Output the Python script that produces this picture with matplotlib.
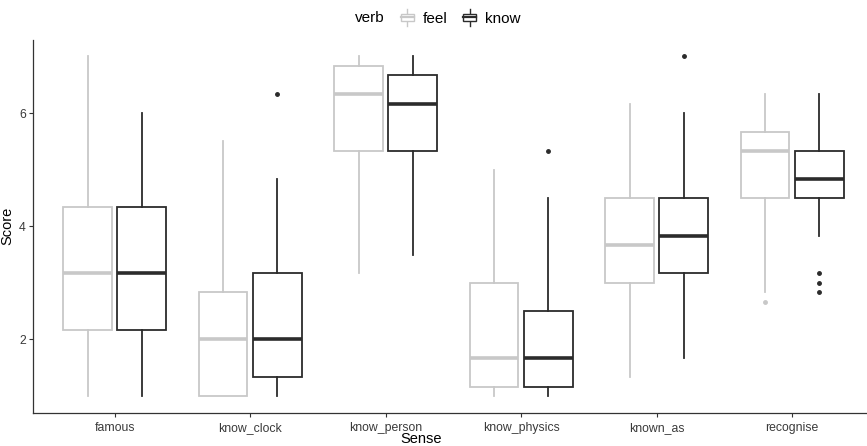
import matplotlib
matplotlib.use("Agg")
import matplotlib.pyplot as plt
from matplotlib.legend_handler import HandlerBase
from matplotlib.lines import Line2D
from matplotlib.patches import Rectangle

plt.rcParams['font.family'] = ['Liberation Sans', 'DejaVu Sans']

senses = ["famous", "know_clock", "know_person", "know_physics", "known_as", "recognise"]
verbs = ["feel", "know"]

# five-number summaries: low whisker, Q1, median, Q3, high whisker
feel_low = [1.0, 1.0, 3.167, 1.0, 1.333, 2.833]
feel_q1 = [2.167, 1.0, 5.333, 1.167, 3.0, 4.5]
feel_med = [3.167, 2.0, 6.333, 1.667, 3.667, 5.333]
feel_q3 = [4.333, 2.833, 6.833, 3.0, 4.5, 5.667]
feel_high = [7.0, 5.5, 7.0, 5.0, 6.167, 6.333]
feel_out = [[], [], [], [], [], [2.667]]

know_low = [1.0, 1.0, 3.5, 1.0, 1.667, 3.833]
know_q1 = [2.167, 1.333, 5.333, 1.167, 3.167, 4.5]
know_med = [3.167, 2.0, 6.167, 1.667, 3.833, 4.833]
know_q3 = [4.333, 3.167, 6.667, 2.5, 4.5, 5.333]
know_high = [6.0, 4.833, 7.0, 4.5, 6.0, 6.333]
know_out = [[], [6.333], [], [5.333], [7.0], [3.167, 3.0, 2.833]]

feel_color = "#c8c8c8"
know_color = "#2b2b2b"

W, H = 867, 446
fig = plt.figure(figsize=(W / 100, H / 100), dpi=100)
ax = fig.add_axes([33.4 / W, 1 - 413 / H, 1 - 33.4 / W, (413 - 39.5) / H])

def stats(low, q1, med, q3, high, out):
    return [dict(whislo=a, q1=b, med=c, q3=d, whishi=e, fliers=f)
            for a, b, c, d, e, f in zip(low, q1, med, q3, high, out)]

groups = [
    (stats(feel_low, feel_q1, feel_med, feel_q3, feel_high, feel_out), feel_color, -0.2),
    (stats(know_low, know_q1, know_med, know_q3, know_high, know_out), know_color, 0.2),
]
for st, col, off in groups:
    pos = [i + 1 + off for i in range(len(senses))]
    ax.bxp(st, positions=pos, widths=0.36, showcaps=False, patch_artist=True,
           boxprops=dict(facecolor="white", edgecolor=col, linewidth=1.3),
           whiskerprops=dict(color=col, linewidth=1.3),
           medianprops=dict(color=col, linewidth=2.6, solid_capstyle="butt"),
           flierprops=dict(marker="o", markersize=2.5, markerfacecolor=col,
                           markeredgecolor=col, linestyle="none"))

ax.set_xlim(0.4, 1 + (W - 114.7) / 135.5)
ax.set_ylim(0.7, 7.3)
ax.set_xticks(range(1, len(senses) + 1))
ax.set_xticklabels(senses)
ax.set_yticks([2, 4, 6])
ax.tick_params(axis="both", labelsize=8.8, labelcolor="#3a3a3a", color="#333333",
               length=3, width=0.8)
ax.tick_params(axis="y", pad=2.5)
for s in ["top", "right"]:
    ax.spines[s].set_visible(False)
for s in ["left", "bottom"]:
    ax.spines[s].set_color("#333333")
    ax.spines[s].set_linewidth(0.9)

ax.set_xlabel("Sense", fontsize=10.5)
ax.set_ylabel("Score", fontsize=10.5)
ax.xaxis.set_label_coords((421 - 33.4) / (W - 33.4), -0.052)
ax.yaxis.set_label_coords(-0.023, 0.5)


class BoxHandler(HandlerBase):
    def create_artists(self, legend, orig_handle, xdescent, ydescent, width,
                       height, fontsize, trans):
        col = orig_handle.get_color()
        x0, y0 = -xdescent, -ydescent
        cx = x0 + width / 2
        arts = [
            Line2D([cx, cx], [y0 - height * 0.1, y0 + height * 0.25], color=col, lw=1.0, transform=trans),
            Line2D([cx, cx], [y0 + height * 0.75, y0 + height * 1.1], color=col, lw=1.0, transform=trans),
            Rectangle((x0 + width * 0.1, y0 + height * 0.25), width * 0.8, height * 0.5,
                      facecolor="white", edgecolor=col, lw=1.0, transform=trans),
            Line2D([x0 + width * 0.1, x0 + width * 0.9], [y0 + height * 0.5] * 2,
                   color=col, lw=1.6, transform=trans),
        ]
        return arts


handles = [Line2D([], [], color=feel_color), Line2D([], [], color=know_color)]
fig.text(370 / W, 1 - 18 / H, "verb", fontsize=11, ha="center", va="center")
leg = fig.legend(handles, verbs, handler_map={Line2D: BoxHandler()}, ncol=2,
                 loc="center left", bbox_to_anchor=(399 / W, 1 - 18 / H),
                 frameon=False, fontsize=11, handlelength=1.1, handleheight=1.0,
                 handletextpad=0.45, columnspacing=0.9, borderpad=0, borderaxespad=0)

fig.savefig("out.png", dpi=100)
